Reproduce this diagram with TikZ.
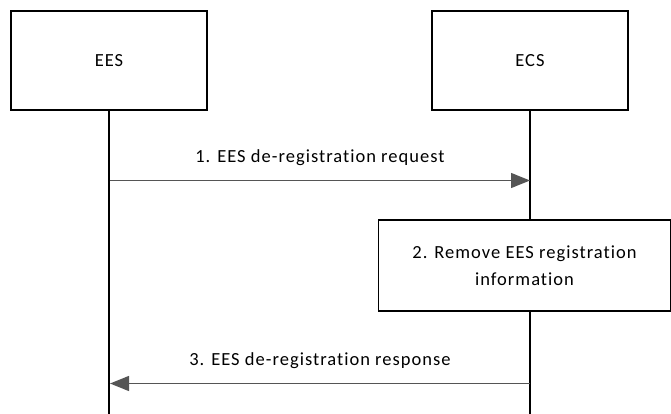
\documentclass[tikz,border=0pt]{standalone}
\usepackage{fontspec}
\setmainfont{Carlito}[LetterSpace=5.5,Ligatures={NoCommon}]
\usetikzlibrary{arrows.meta}
\begin{document}
\begin{tikzpicture}[x=1pt,y=-1pt,
  ent/.style={draw,line width=1.3pt,minimum width=196pt,minimum height=99pt,font=\fontsize{18.5}{22}\selectfont},
  act/.style={draw,line width=1.3pt,minimum width=292pt,minimum height=91pt,align=center,font=\fontsize{18.5}{27}\selectfont},
  life/.style={line width=1.3pt},
  msg/.style={line width=1.3pt,draw={rgb,255:red,85;green,85;blue,85},-{Triangle[length=19pt,width=15pt]}},
  lbl/.style={font=\fontsize{18.5}{22}\selectfont}]
\useasboundingbox (0,0) rectangle (671,414);
\node[ent] (ees) at (109,60.5) {EES};
\node[ent] (ecs) at (530,60.5) {ECS};
\coordinate (eesEnd) at (109,414);
\coordinate (ecsEnd) at (530,414);
\node[act] (rm) at (524.5,265.5) {2. Remove EES registration\\information};
\coordinate (rmTop) at (530,220);
\coordinate (rmBot) at (530,311);
\draw[life] (ees.south) -- (eesEnd);
\draw[life] (ecs.south) -- (rmTop);
\draw[life] (rmBot) -- (ecsEnd);
\coordinate (m1s) at (110,180.5);
\coordinate (m1e) at (530,180.5);
\coordinate (m3s) at (530,383.5);
\coordinate (m3e) at (110,383.5);
\draw[msg] (m1s) -- (m1e) node[lbl,midway,above=11pt] (l1) {1. EES de-registration request};
\draw[msg] (m3s) -- (m3e) node[lbl,midway,above=11pt] (l3) {3. EES de-registration response};
\end{tikzpicture}
\end{document}
